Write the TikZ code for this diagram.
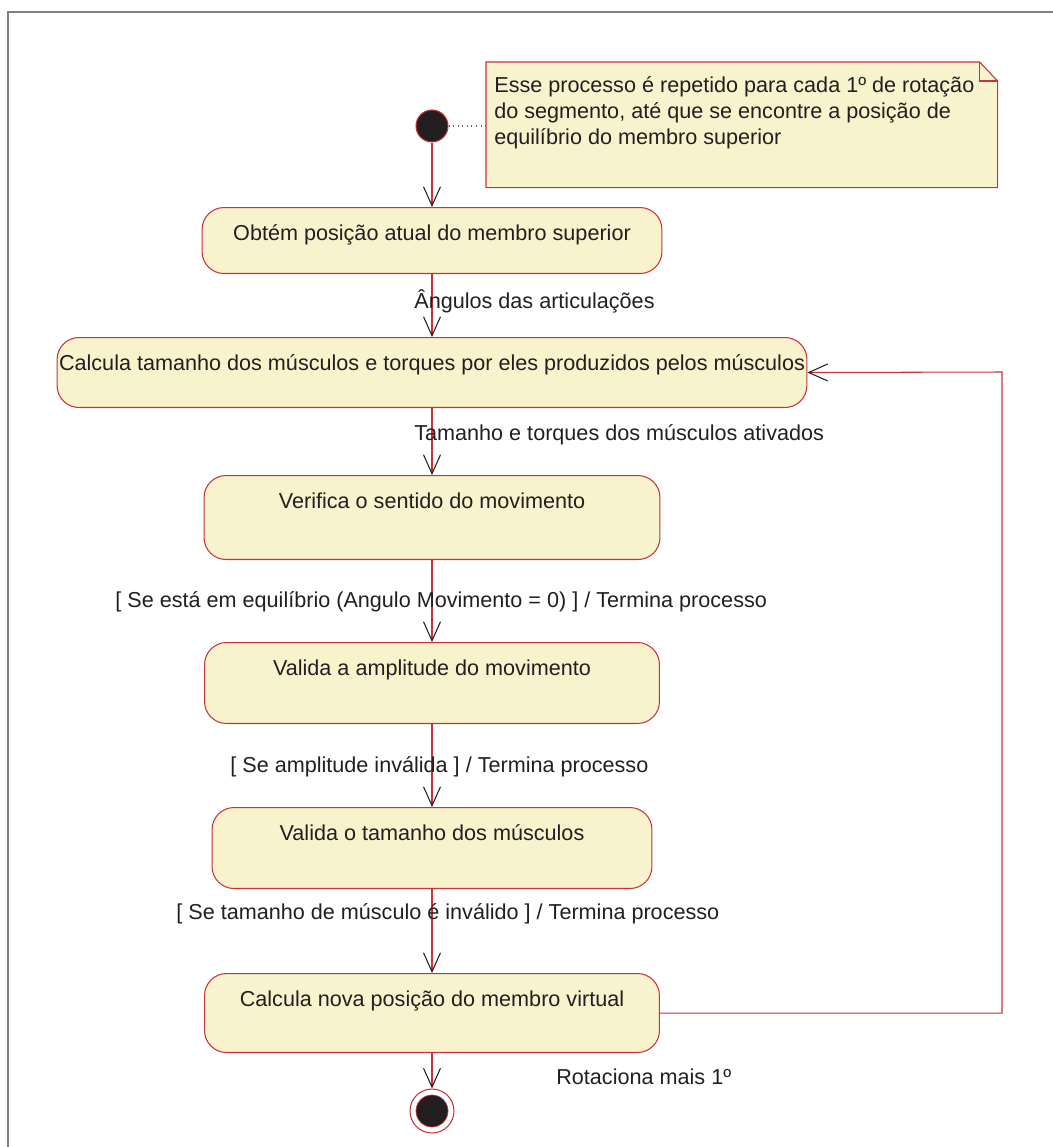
\documentclass[tikz,border=0pt]{standalone}
\usepackage{fontspec}
\setmainfont{Liberation Sans}
\setsansfont{Liberation Sans}
\usetikzlibrary{arrows.meta,positioning,calc}
\definecolor{ink}{HTML}{231F20}
\definecolor{statered}{HTML}{C8323C}
\definecolor{statefill}{HTML}{F8F3CD}
\definecolor{framegray}{HTML}{808080}
\definecolor{dotgray}{HTML}{666666}
\tikzset{
  state/.style={draw=statered, fill=statefill, rounded corners=0.44cm, line width=0.6pt, inner sep=0pt, text height=0.66cm, anchor=north, font=\sffamily\fontsize{12.3}{14.7}\selectfont, text=ink},
  startnode/.style={circle, draw=statered, fill=ink, line width=0.6pt, minimum size=0.64cm, inner sep=0pt},
  endouter/.style={circle, draw=statered, fill=white, line width=0.6pt, minimum size=0.88cm, inner sep=0pt},
  endinner/.style={circle, draw=statered, fill=ink, line width=0.4pt, minimum size=0.64cm, inner sep=0pt},
  trans/.style={font=\sffamily\fontsize{12.3}{14.7}\selectfont, text=ink, inner sep=0pt, anchor=mid west},
  flow/.style={draw=statered, line width=0.6pt, -{Straight Barb[length=0.38cm, width=0.34cm, color=ink, line width=0.6pt]}},
  notebox/.style={draw=statered, fill=statefill, line width=0.6pt},
  notetext/.style={font=\sffamily\fontsize{12.3}{14.9}\selectfont, text=ink, align=left, anchor=north west, inner sep=0pt},
  link/.style={draw=dotgray, dotted, line width=0.6pt},
  frame/.style={draw=framegray, line width=1.2pt}
}

\begin{document}
\begin{tikzpicture}[x=0.02cm, y=-0.02cm]
\useasboundingbox (0,0) rectangle (1053,1147);
\draw[frame] (1060,12) -- (8,12) -- (8,1160);

% nota
\node[minimum width=10.22cm, minimum height=2.5cm, anchor=north west, inner sep=0pt] (nota) at (486,62) {};
\path[notebox] (nota.north west) -- ([xshift=-0.36cm]nota.north east) -- ([yshift=-0.38cm]nota.north east) -- (nota.south east) -- (nota.south west) -- cycle;
\draw[notebox, fill=none] ([xshift=-0.36cm]nota.north east) |- ([yshift=-0.38cm]nota.north east);
\node[notetext] (notatxt) at (494,76) {Esse processo é repetido para cada 1º de rotação\\do segmento, até que se encontre a posição de\\equilíbrio do membro superior};

% estados
\node[startnode] (ini) at (432,126) {};
\node[state, minimum width=9.2cm, text depth=0.66cm] (s1) at (432,207) {Obtém posição atual do membro superior};
\node[state, minimum width=15cm, text depth=0.74cm] (s2) at (432,337) {Calcula tamanho dos músculos e torques por eles produzidos pelos músculos};
\node[state, minimum width=9.12cm, text depth=1.02cm] (s3) at (432,475) {Verifica o sentido do movimento};
\node[state, minimum width=9.1cm, text depth=0.96cm] (s4) at (432,642) {Valida a amplitude do movimento};
\node[state, minimum width=8.8cm, text depth=0.96cm] (s5) at (432,807) {Valida o tamanho dos músculos};
\node[state, minimum width=9.1cm, text depth=0.92cm] (s6) at (432,973) {Calcula nova posição do membro virtual};
\node[endouter] (fim) at (432,1111) {};
\node[endinner] (fimc) at (fim) {};

\draw[link] (ini) -- (nota.west |- ini);

% transicoes
\draw[flow] (ini) -- (s1.north);
\draw[flow] (s1.south) -- (s2.north);
\draw[flow] (s2.south) -- (s3.north);
\draw[flow] (s3.south) -- (s4.north);
\draw[flow] (s4.south) -- (s5.north);
\draw[flow] (s5.south) -- (s6.north);
\draw[flow] (s6.south) -- (fim.north);
\coordinate (volta) at (1002,372);
\draw[flow] (s6.east) -| (volta) -- (s2.east);

\node[trans] (t1) at (414,304) {Ângulos das articulações};
\node[trans] (t2) at (414,436) {Tamanho e torques dos músculos ativados};
\node[trans] (t3) at (115,603) {[ Se está em equilíbrio (Angulo Movimento = 0) ] / Termina processo};
\node[trans] (t4) at (230,768) {[ Se amplitude inválida ] / Termina processo};
\node[trans] (t5) at (176,915) {[ Se tamanho de músculo é inválido ] / Termina processo};
\node[trans] (t6) at (556,1080) {Rotaciona mais 1º};
\end{tikzpicture}
\end{document}
